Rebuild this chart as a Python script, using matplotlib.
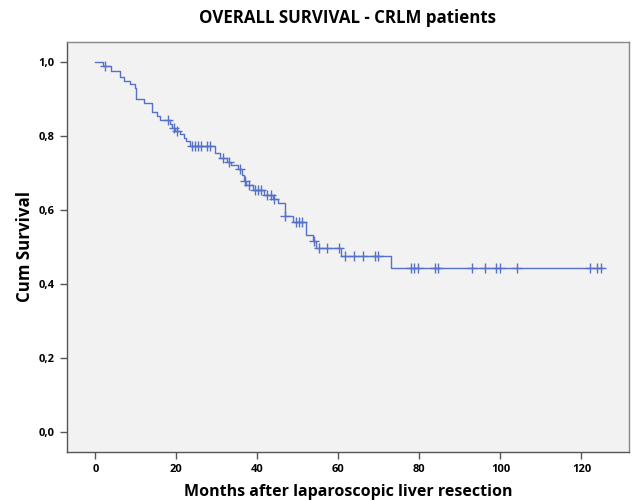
import numpy as np
import matplotlib
matplotlib.use("Agg")
import matplotlib.pyplot as plt
from matplotlib.ticker import FuncFormatter

# Kaplan-Meier event times (months) and survival after each step
event_times = [0.0, 1.8, 3.85, 6.1, 7.0, 8.6, 9.7, 10.1, 11.9, 13.9, 15.2, 16.0,
               18.4, 18.9, 19.7, 20.9, 22.0, 22.5, 23.4, 29.5, 30.7, 32.4, 33.6,
               35.2, 36.2, 36.7, 37.3, 38.9, 41.6, 43.8, 45.2, 46.7, 48.8, 52.0,
               53.7, 54.5, 60.7, 72.9]
survival = [1.0, 0.988, 0.975, 0.960, 0.950, 0.940, 0.930, 0.900, 0.890, 0.865,
            0.855, 0.843, 0.832, 0.823, 0.815, 0.806, 0.795, 0.787, 0.772, 0.755,
            0.742, 0.730, 0.722, 0.710, 0.695, 0.680, 0.669, 0.654, 0.642, 0.630,
            0.620, 0.583, 0.568, 0.534, 0.516, 0.497, 0.475, 0.443]
last_followup = 125.3

censor_times = [2.3, 18.0, 19.3, 20.2, 23.8, 24.6, 25.4, 26.2, 27.5, 28.3, 31.5,
                33.0, 35.8, 37.0, 38.0, 39.3, 40.2, 41.0, 42.3, 43.3, 44.2, 46.8,
                49.5, 50.3, 51.1, 54.0, 55.3, 57.3, 60.2, 61.7, 63.9, 66.0, 69.1,
                69.9, 77.9, 78.7, 79.7, 83.8, 84.7, 93.0, 96.1, 99.0, 100.0, 104.1,
                122.0, 123.8, 124.8]

title = "OVERALL SURVIVAL - CRLM patients"
xlabel = "Months after laparoscopic liver resection"
ylabel = "Cum Survival"
xticks = [0, 20, 40, 60, 80, 100, 120]
yticks = [0.0, 0.2, 0.4, 0.6, 0.8, 1.0]

line_color = "#5572C8"
font = ["Open Sans", "DejaVu Sans"]

fig = plt.figure(figsize=(6.32, 5.0), dpi=100)
ax = fig.add_axes([0.106, 0.096, 0.889, 0.82])
ax.set_facecolor("#F2F2F2")

xs = list(event_times) + [last_followup]
ys = list(survival) + [survival[-1]]
ax.step(xs, ys, where="post", color=line_color, lw=1.0)

et = np.array(event_times)
sv = np.array(survival)
cs = [sv[np.searchsorted(et, c, side="right") - 1] for c in censor_times]
ax.plot(censor_times, cs, linestyle="none", marker="+", color=line_color,
        markersize=7, markeredgewidth=1.0)

ax.set_xlim(-7.0, 131.7)
ax.set_ylim(-0.053, 1.054)
ax.set_xticks(xticks)
ax.set_yticks(yticks)
ax.yaxis.set_major_formatter(FuncFormatter(lambda v, p: f"{v:.1f}".replace(".", ",")))

for s in ax.spines.values():
    s.set_color("#555555")
    s.set_linewidth(1.0)
ax.spines["top"].set_color("#888888")
ax.spines["right"].set_color("#888888")
ax.tick_params(axis="both", direction="out", length=5, width=1, color="#555555",
               labelsize=8, pad=4)
for lab in ax.get_xticklabels() + ax.get_yticklabels():
    lab.set_fontfamily(font)
    lab.set_fontweight("bold")

ax.set_title(title, fontsize=12.2, fontweight="bold", family=font, pad=14)
ax.set_xlabel(xlabel, fontsize=11.5, fontweight="bold", family=font, labelpad=6)
ax.set_ylabel(ylabel, fontsize=12.2, fontweight="bold", family=font, labelpad=3)

fig.savefig("out.png", dpi=100, facecolor="white")
